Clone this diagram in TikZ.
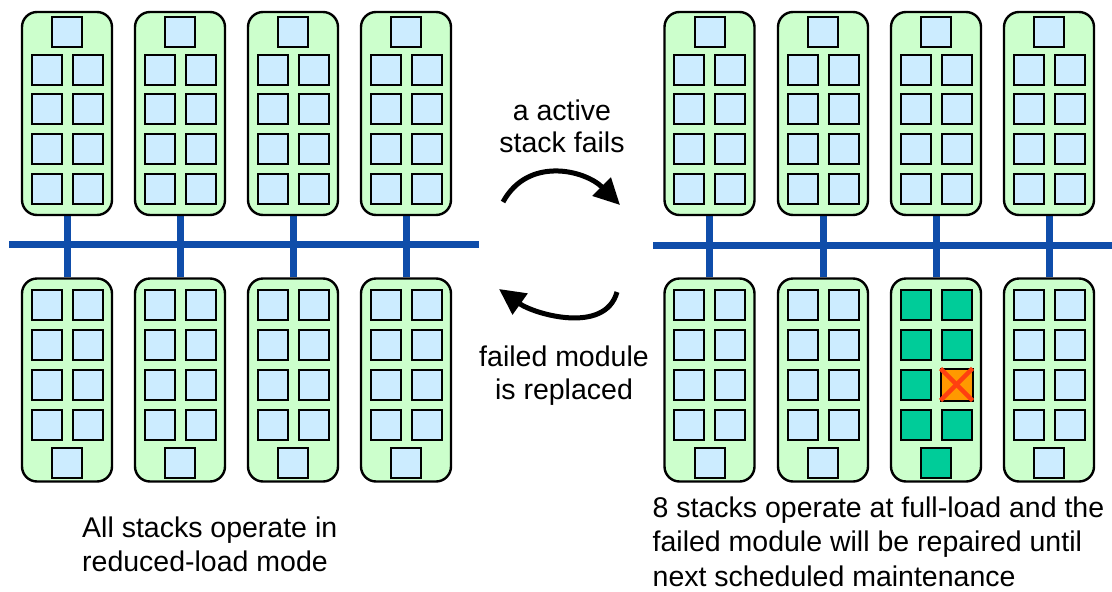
\documentclass[tikz,border=0pt]{standalone}
\usepackage{fontspec}
\setmainfont{Liberation Sans}
\usetikzlibrary{arrows.meta,backgrounds}

\definecolor{stackgreen}{HTML}{CCFFCC}
\definecolor{modblue}{HTML}{CCECFF}
\definecolor{busblue}{HTML}{0F4DAA}
\definecolor{liveteal}{HTML}{00CC99}
\definecolor{failorange}{HTML}{FF9900}
\definecolor{crossred}{HTML}{FF4010}

\begin{document}
\begin{tikzpicture}[x=1pt, y=-1pt,
    stackbox/.style={draw, line width=2.4pt, fill=stackgreen, rounded corners=15pt,
        minimum width=90pt, minimum height=203pt, inner sep=0pt},
    modbox/.style={draw, line width=2pt, fill=modblue, minimum size=30pt, inner sep=0pt},
    livebox/.style={modbox, fill=liveteal},
    busline/.style={line width=7pt, draw=busblue},
    turnarrow/.style={line width=5pt, -{Triangle[length=26pt,width=25pt]}},
    caption/.style={font=\fontsize{28.5}{34.5}\selectfont, align=left, inner sep=0pt}]

    % Fix the page to the size of the reference
    \useasboundingbox (0,0) rectangle (1112,592);

    % Top row of stacks: one module on top, then four pairs
    \foreach \i/\cx in {1/67, 2/180, 3/293, 4/406, 5/709.5, 6/823, 7/936, 8/1049} {
        \node[stackbox] (t\i) at (\cx, 113.5) {};
        \node[modbox] (t\i-s) at (\cx, 31.5) {};
        \foreach \r/\y in {1/69.5, 2/109.2, 3/148.8, 4/188.5} {
            \node[modbox] (t\i-l\r) at (\cx-20.5, \y) {};
            \node[modbox] (t\i-r\r) at (\cx+20.5, \y) {};
        }
    }

    % Bottom row of stacks: four pairs, then one module at the bottom
    % Stack 7 is the one with the failed module (all modules at full load)
    \foreach \i/\cx/\ms in {1/67/modbox, 2/180/modbox, 3/293/modbox, 4/406/modbox,
                            5/709.5/modbox, 6/823/modbox, 7/936/livebox, 8/1049/modbox} {
        \node[stackbox] (b\i) at (\cx, 380) {};
        \foreach \r/\y in {1/305, 2/345, 3/384.5, 4/424.5} {
            \node[\ms] (b\i-l\r) at (\cx-20.5, \y) {};
            \node[\ms] (b\i-r\r) at (\cx+20.5, \y) {};
        }
        \node[\ms] (b\i-s) at (\cx, 462.5) {};
    }

    % Failed module, crossed out
    \draw[line width=2pt, fill=failorange] (b7-r3.north west) rectangle (b7-r3.south east);
    \draw[line width=4.5pt, crossred] (b7-r3.north west) -- (b7-r3.south east);
    \draw[line width=4.5pt, crossred] (b7-r3.south west) -- (b7-r3.north east);

    % Ends of the two buses
    \coordinate (busL-w) at (9, 244.5);
    \coordinate (busL-e) at (479, 244.5);
    \coordinate (busR-w) at (653, 245.5);
    \coordinate (busR-e) at (1116, 245.5);

    % Buses and the links from each top stack to the stack below it
    \begin{scope}[on background layer]
        \draw[busline] (busL-w) -- (busL-e);
        \draw[busline] (busR-w) -- (busR-e);
        \foreach \i in {1,...,8}
            \draw[busline] (t\i.south) -- (b\i.north);
    \end{scope}

    % Turning arrows between the two states
    \coordinate (failS) at (503, 202);
    \coordinate (failE) at (620, 205);
    \coordinate (fixS) at (617, 292);
    \coordinate (fixE) at (499, 289);
    \draw[turnarrow] (failS) .. controls (528, 156) and (585, 170) .. (failE);
    \draw[turnarrow] (fixS) .. controls (605, 335) and (534, 314) .. (fixE);

    % Labels of the arrows (base is the baseline of the last line)
    \node[caption, align=center, font=\fontsize{28.5}{32}\selectfont, anchor=base]
        (failtxt) at (562, 152) {a active\\stack fails};
    \node[caption, align=center, font=\fontsize{28.5}{33}\selectfont, anchor=base]
        (fixtxt) at (564, 399.5) {failed module\\is replaced};

    % Captions under the two states
    \node[caption, anchor=base west] (lefttxt) at (82, 571.5)
        {All stacks operate in\\reduced-load mode};
    \node[caption, anchor=base west] (righttxt) at (652.5, 586)
        {8 stacks operate at full-load and the\\failed module will be repaired until\\next scheduled maintenance};

\end{tikzpicture}
\end{document}
